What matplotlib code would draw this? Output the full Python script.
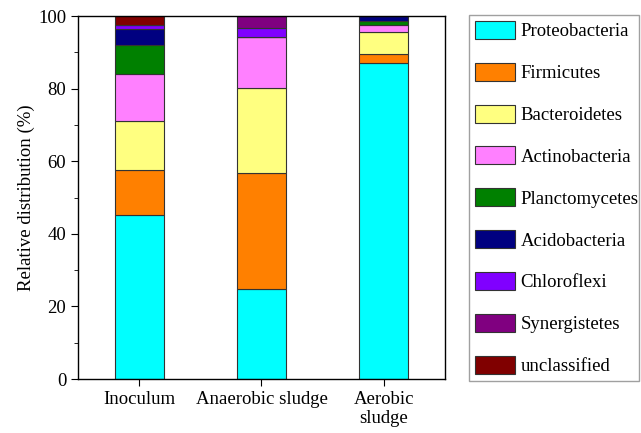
import matplotlib
matplotlib.use("Agg")
import matplotlib.pyplot as plt
from matplotlib.ticker import MultipleLocator
import numpy as np

plt.rcParams['font.family'] = ['Liberation Serif', 'DejaVu Serif']

samples = ["Inoculum", "Anaerobic sludge", "Aerobic\nsludge"]
phyla = ["Proteobacteria", "Firmicutes", "Bacteroidetes", "Actinobacteria",
         "Planctomycetes", "Acidobacteria", "Chloroflexi", "Synergistetes",
         "unclassified"]
proteobacteria = [45.2, 24.7, 87.1]
firmicutes = [12.5, 32.1, 2.3]
bacteroidetes = [13.4, 23.5, 6.2]
actinobacteria = [12.9, 14.0, 1.9]
planctomycetes = [8.0, 0.0, 1.2]
acidobacteria = [4.3, 0.0, 1.3]
chloroflexi = [1.1, 2.3, 0.0]
synergistetes = [0.0, 3.4, 0.0]
unclassified = [2.6, 0.0, 0.0]
colors = ["#00FFFF", "#FF8000", "#FFFF80", "#FF80FF", "#008000",
          "#000080", "#8000FF", "#800080", "#800000"]

series = [proteobacteria, firmicutes, bacteroidetes, actinobacteria,
          planctomycetes, acidobacteria, chloroflexi, synergistetes,
          unclassified]

fig = plt.figure(figsize=(6.41, 4.33), dpi=100)
ax = fig.add_axes([0.1217, 0.1247, 0.5725, 0.8383])

x = np.arange(len(samples))
bottom = np.zeros(len(samples))
handles = []
for name, vals, c in zip(phyla, series, colors):
    vals = np.array(vals)
    b = ax.bar(x, vals, width=0.4, bottom=bottom, color=c,
               edgecolor="#333333", linewidth=0.8, label=name)
    handles.append(b)
    bottom += vals

fs = 13.5
ax.set_xlim(-0.5, 2.5)
ax.set_ylim(0, 100)
ax.set_xticks(x)
ax.set_xticklabels(samples, fontsize=fs)
ax.yaxis.set_major_locator(MultipleLocator(20))
ax.yaxis.set_minor_locator(MultipleLocator(10))
ax.tick_params(axis='y', which='major', direction='out', length=5,
               labelsize=fs, right=False)
ax.tick_params(axis='y', which='minor', direction='out', length=3)
ax.tick_params(axis='x', direction='out', length=5, top=False)
ax.set_ylabel("Relative distribution (%)", fontsize=fs, labelpad=2)
for s in ax.spines.values():
    s.set_linewidth(1.0)

leg = fig.legend(handles=handles, labels=phyla,
                 bbox_to_anchor=(0.7317, 0.127, 0.265, 0.838),
                 loc="upper left", mode="expand", borderaxespad=0,
                 fontsize=fs, handlelength=2.15, handleheight=1.1,
                 labelspacing=1.2, handletextpad=0.3,
                 borderpad=0.3, fancybox=False, edgecolor="#888888")
leg.get_frame().set_linewidth(1.0)

fig.savefig("out.png", dpi=100)
